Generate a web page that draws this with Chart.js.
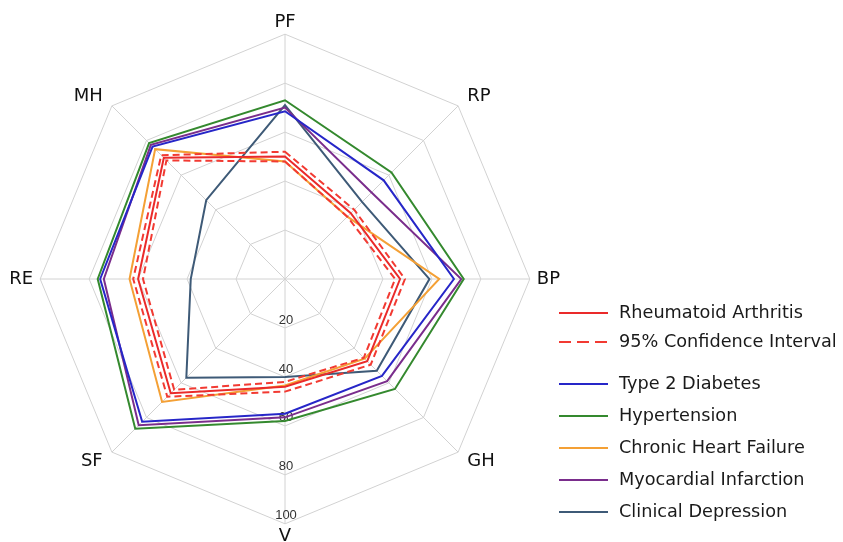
<!DOCTYPE html>
<html>
<head>
<meta charset="utf-8">
<script src="https://cdn.jsdelivr.net/npm/chart.js@4"></script>
<style>
  html, body { margin: 0; padding: 0; background: #ffffff; }
  #wrap { position: relative; width: 843px; height: 542px; }
</style>
</head>
<body>
<div id="wrap"><canvas id="c"></canvas></div>
<script>
// ---- data ----
const axisLabels = ['PF', 'RP', 'BP', 'GH', 'V', 'SF', 'RE', 'MH'];
const tickValues = [20, 40, 60, 80, 100];

const raValues  = [50, 38, 47, 47.5, 44, 66, 60, 70];
const raUpper   = [52, 40, 49, 49.5, 46, 68, 62, 71.5];
const raLower   = [48, 36, 45, 45.5, 42, 64, 58, 68.5];
const t2dValues = [68.5, 57, 69, 56, 55, 82.5, 75.5, 76.5];
const htnValues = [73, 61.5, 73, 63.5, 58, 86.5, 76.5, 78.5];
const chfValues = [48, 36, 63, 46, 43.5, 71, 63.5, 75];
const miValues  = [70, 50, 72, 59, 56.5, 84.5, 74, 77.5];
const cdValues  = [71, 44.5, 59, 53, 40, 57, 38.5, 45.5];

const seriesNames = ['Rheumatoid Arthritis', '95% Confidence Interval', 'Type 2 Diabetes',
  'Hypertension', 'Chronic Heart Failure', 'Myocardial Infarction', 'Clinical Depression'];

const RED = '#ea2a2a', BLUE = '#2626c8', GREEN = '#34892e', ORANGE = '#f4a035',
      PURPLE = '#7a2d8c', SLATE = '#3e5a77';

function ds(label, data, color, dash, legend) {
  return { label, data, borderColor: color, backgroundColor: color, borderWidth: 2,
           borderDash: dash || [], fill: false, pointRadius: 0, pointHoverRadius: 0,
           tension: 0, showInLegend: legend };
}

const datasets = [
  ds(seriesNames[0], raValues, RED, null, true),
  ds(seriesNames[1], raUpper, '#f23a32', [7, 4], true),
  ds(seriesNames[1], raLower, '#f23a32', [7, 4], false),
  ds(seriesNames[2], t2dValues, BLUE, null, true),
  ds(seriesNames[3], htnValues, GREEN, null, true),
  ds(seriesNames[4], chfValues, ORANGE, null, true),
  ds(seriesNames[5], miValues, PURPLE, null, true),
  ds(seriesNames[6], cdValues, SLATE, null, true)
];

// tick labels along the bottom (V) axis, placed using the radial scale
const tickLabelPlugin = {
  id: 'tickLabels',
  beforeDatasetsDraw(chart) {
    const s = chart.scales.r;
    const ctx = chart.ctx;
    ctx.save();
    ctx.font = '13px "Liberation Sans", Arial, sans-serif';
    ctx.fillStyle = '#333';
    ctx.textAlign = 'center';
    ctx.textBaseline = 'middle';
    tickValues.forEach(v => {
      const d = s.getDistanceFromCenterForValue(v);
      ctx.fillText(String(v), s.xCenter + 1, s.yCenter + d - 8);
    });
    ctx.restore();
  }
};

// custom legend on the right
const legendPlugin = {
  id: 'customLegend',
  afterDraw(chart) {
    const ctx = chart.ctx;
    const items = chart.data.datasets.filter(d => d.showInLegend);
    const rowsY = [313, 342, 384, 416, 448, 480, 512];
    ctx.save();
    ctx.font = '17.7px "DejaVu Sans", sans-serif';
    ctx.textBaseline = 'middle';
    ctx.textAlign = 'left';
    items.forEach((d, i) => {
      const y = rowsY[i];
      ctx.strokeStyle = d.borderColor;
      ctx.lineWidth = 2;
      ctx.setLineDash(d.borderDash.length ? [12, 6] : []);
      ctx.beginPath();
      ctx.moveTo(559, y);
      ctx.lineTo(608, y);
      ctx.stroke();
      ctx.setLineDash([]);
      ctx.fillStyle = '#1a1a1a';
      ctx.fillText(d.label, 619, y);
    });
    ctx.restore();
  }
};

new Chart(document.getElementById('c'), {
  type: 'radar',
  data: { labels: axisLabels, datasets },
  options: {
    responsive: true,
    maintainAspectRatio: false,
    animation: false,
    layout: { padding: { left: 0, right: 273, top: 22, bottom: 5 } },
    plugins: { legend: { display: false }, tooltip: { enabled: false } },
    scales: {
      r: {
        min: 0, max: 100,
        ticks: { display: false, stepSize: 20 },
        grid: { color: '#d2d2d2', lineWidth: 1 },
        angleLines: { color: '#d2d2d2', lineWidth: 1 },
        pointLabels: {
          color: '#111',
          font: { family: '"DejaVu Sans", sans-serif', size: 18, lineHeight: 0.01 },
          padding: (ctx) => {
            const i = ctx.index;
            if (i === 0 || i === 4) return 12;
            if (i === 2 || i === 6) return 7;
            return 13;
          }
        }
      }
    }
  },
  plugins: [tickLabelPlugin, legendPlugin]
});
</script>
</body>
</html>
